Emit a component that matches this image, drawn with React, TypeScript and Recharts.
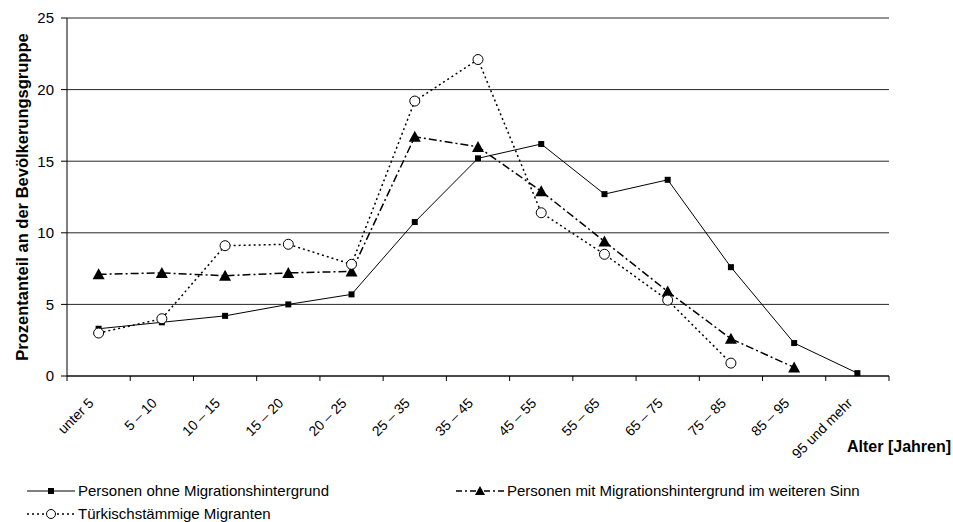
import React from 'react';
import { LineChart, Line, XAxis, YAxis, CartesianGrid } from 'recharts';

const ageGroups = [
  'unter 5', '5 – 10', '10 – 15', '15 – 20', '20 – 25', '25 – 35', '35 – 45',
  '45 – 55', '55 – 65', '65 – 75', '75 – 85', '85 – 95', '95 und mehr',
];
const ohneMigration = [3.3, 3.75, 4.2, 5.0, 5.7, 10.75, 15.2, 16.2, 12.7, 13.7, 7.6, 2.3, 0.2];
const mitMigration = [7.1, 7.2, 7.0, 7.2, 7.3, 16.7, 16.0, 12.9, 9.4, 5.9, 2.6, 0.6, null];
const tuerkisch = [3.0, 4.0, 9.1, 9.2, 7.8, 19.2, 22.1, 11.4, 8.5, 5.3, 0.9, null, null];
const yTicks = [0, 5, 10, 15, 20, 25];

const FONT = '"Liberation Sans", Arial, sans-serif';

const data = ageGroups.map((age, i) => ({
  age,
  ohne: ohneMigration[i],
  mit: mitMigration[i],
  tuerk: tuerkisch[i],
}));

const SquareDot = (props: any) => {
  const { cx, cy, value } = props;
  if (value == null || cx == null || cy == null) return null;
  return <rect key={`s${cx}`} x={cx - 3} y={cy - 3} width={6} height={6} fill="#000" />;
};

const TriangleDot = (props: any) => {
  const { cx, cy, value } = props;
  if (value == null || cx == null || cy == null) return null;
  return <path key={`t${cx}`} d={`M${cx},${cy - 6} L${cx + 6},${cy + 5} L${cx - 6},${cy + 5} Z`} fill="#000" />;
};

const CircleDot = (props: any) => {
  const { cx, cy, value } = props;
  if (value == null || cx == null || cy == null) return null;
  return <circle key={`c${cx}`} cx={cx} cy={cy} r={5} fill="#fff" stroke="#000" strokeWidth={1} />;
};

// tick marks sit on category boundaries, labels rotated under the band centre
const AgeTick = (props: any) => {
  const { x, y, payload, index } = props;
  const half = payload.offset ?? 31.6;
  const last = index === ageGroups.length - 1;
  const ax = x - 4;
  const ay = y + 20;
  return (
    <g>
      <line x1={x - half} y1={y - 8} x2={x - half} y2={y - 3} stroke="#000" />
      {last && <line x1={x + half} y1={y - 8} x2={x + half} y2={y - 3} stroke="#000" />}
      <text
        x={ax}
        y={ay}
        textAnchor="end"
        transform={`rotate(-45 ${ax} ${ay})`}
        fontSize={14}
        fontFamily={FONT}
        fill="#000"
      >
        {payload.value}
      </text>
    </g>
  );
};

const LegendIcon = ({ kind }: { kind: 'ohne' | 'mit' | 'tuerk' }) => (
  <svg width={48} height={12} style={{ display: 'block' }}>
    {kind === 'ohne' && (
      <>
        <line x1={0} y1={6} x2={48} y2={6} stroke="#000" strokeWidth={1} />
        <rect x={21} y={3} width={6} height={6} fill="#000" />
      </>
    )}
    {kind === 'mit' && (
      <>
        <line x1={0} y1={6} x2={48} y2={6} stroke="#000" strokeWidth={1.5} strokeDasharray="6 3 2 3" />
        <path d="M24,1 L29,10 L19,10 Z" fill="#000" />
      </>
    )}
    {kind === 'tuerk' && (
      <>
        <line x1={0} y1={6} x2={48} y2={6} stroke="#000" strokeWidth={1.5} strokeDasharray="2 3" />
        <circle cx={24} cy={6} r={4.5} fill="#fff" stroke="#000" />
      </>
    )}
  </svg>
);

const legendItem = (kind: 'ohne' | 'mit' | 'tuerk', label: string, left: number, top: number) => (
  <div
    style={{
      position: 'absolute', left, top, display: 'flex', alignItems: 'center', gap: 3,
      fontFamily: FONT, fontSize: 15, lineHeight: '17px', whiteSpace: 'nowrap', color: '#000',
    }}
  >
    <LegendIcon kind={kind} />
    <span>{label}</span>
  </div>
);

export default function App() {
  return (
    <div style={{ position: 'absolute', left: 0, top: 0, width: 953, height: 522, background: '#fff' }}>
      <LineChart width={953} height={522} data={data} margin={{ top: 18, right: 64, bottom: 76, left: 0 }}>
        <CartesianGrid horizontal vertical={false} stroke="#000" strokeOpacity={0.85} />
        <XAxis
          dataKey="age"
          scale="band"
          height={70}
          interval={0}
          axisLine={{ stroke: '#000' }}
          tickLine={false}
          tick={<AgeTick />}
        />
        <YAxis
          width={67}
          domain={[0, 25]}
          ticks={yTicks}
          tickSize={6}
          tickMargin={7}
          axisLine={{ stroke: '#000' }}
          tickLine={{ stroke: '#000' }}
          tick={{ fontSize: 15, fontFamily: FONT, fill: '#000' }}
          label={{
            value: 'Prozentanteil an der Bevölkerungsgruppe',
            angle: -90,
            position: 'center',
            dx: -11,
            style: { fontSize: 16.5, fontWeight: 'bold', fontFamily: FONT, fill: '#000', textAnchor: 'middle' },
          }}
        />
        <YAxis
          yAxisId="frame"
          orientation="right"
          width={0}
          domain={[0, 25]}
          tick={false}
          tickLine={false}
          axisLine={{ stroke: '#999' }}
        />
        <Line
          type="linear"
          dataKey="ohne"
          stroke="#000"
          strokeWidth={1}
          dot={<SquareDot />}
          activeDot={false}
          isAnimationActive={false}
        />
        <Line
          type="linear"
          dataKey="mit"
          stroke="#000"
          strokeWidth={1.5}
          strokeDasharray="8 3 2 3"
          dot={<TriangleDot />}
          activeDot={false}
          isAnimationActive={false}
        />
        <Line
          type="linear"
          dataKey="tuerk"
          stroke="#000"
          strokeWidth={1.5}
          strokeDasharray="2 3"
          dot={<CircleDot />}
          activeDot={false}
          isAnimationActive={false}
        />
      </LineChart>
      <div
        style={{
          position: 'absolute', left: 847, top: 438, fontFamily: FONT, fontSize: 16,
          lineHeight: '18px', fontWeight: 'bold', color: '#000', whiteSpace: 'nowrap',
        }}
      >
        Alter [Jahren]
      </div>
      {legendItem('ohne', 'Personen ohne Migrationshintergrund', 27, 482)}
      {legendItem('mit', 'Personen mit Migrationshintergrund im weiteren Sinn', 456, 482)}
      {legendItem('tuerk', 'Türkischstämmige Migranten', 27, 505)}
    </div>
  );
}
